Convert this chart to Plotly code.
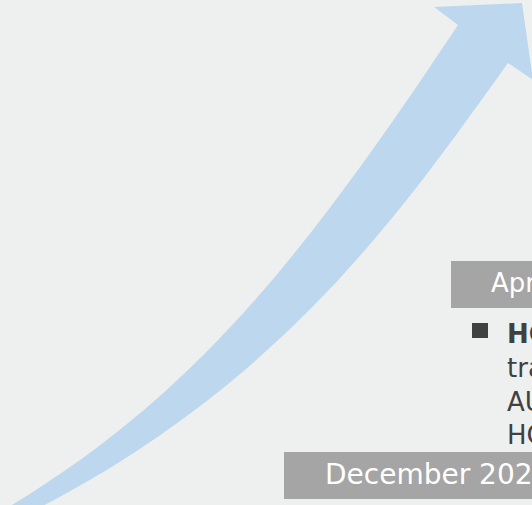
import plotly.graph_objects as go

# ---- content ----
DATE_LABELS = ["Apr", "December 202"]
BULLET_HEAD = "HC"
BULLET_BODY = ["tra", "AU", "HC"]

# arrow outline (cubic Bezier edges + arrow head), canvas pixel units
UPPER_EDGE = [(-5, 515), (195, 399), (308, 250), (458, 25)]
ARROW_HEAD = [(434, 7), (522, 3), (533, 80)]
LOWER_EDGE = [(508, 63), (408, 202), (285, 385), (25, 515)]

W, H = 532, 505
BG = "#EEF0EF"
ARROW = "#BDD7EE"
BOX = "#A5A5A5"
DARK = "#404040"
FONT = "DejaVu Sans"


def pt(p):
    return f"{p[0]},{p[1]}"


path = (
    f"M {pt(UPPER_EDGE[0])} C {pt(UPPER_EDGE[1])} {pt(UPPER_EDGE[2])} {pt(UPPER_EDGE[3])} "
    + " ".join(f"L {pt(p)}" for p in ARROW_HEAD)
    + f" L {pt(LOWER_EDGE[0])} C {pt(LOWER_EDGE[1])} {pt(LOWER_EDGE[2])} {pt(LOWER_EDGE[3])} Z"
)

fig = go.Figure()
fig.add_trace(go.Scatter(x=[0, W], y=[0, H], mode="markers",
                         marker=dict(opacity=0), hoverinfo="skip", showlegend=False))

shapes = [
    dict(type="path", path=path, xref="x", yref="y", fillcolor=ARROW,
         line=dict(width=0), layer="below"),
    # date boxes
    dict(type="rect", xref="x", yref="y", x0=451, x1=560, y0=261, y1=308,
         fillcolor=BOX, line=dict(width=0)),
    dict(type="rect", xref="x", yref="y", x0=284, x1=560, y0=452, y1=499,
         fillcolor=BOX, line=dict(width=0)),
    # bullet square
    dict(type="rect", xref="x", yref="y", x0=472, x1=488, y0=323, y1=338,
         fillcolor=DARK, line=dict(width=0)),
]

annotations = [
    dict(x=489, y=283, xref="x", yref="y", text=DATE_LABELS[0], showarrow=False,
         xanchor="left", yanchor="middle", font=dict(family=FONT, size=26, color="white")),
    dict(x=323, y=474, xref="x", yref="y", text=DATE_LABELS[1], showarrow=False,
         xanchor="left", yanchor="middle", font=dict(family=FONT, size=28, color="white")),
    dict(x=505, y=317, xref="x", yref="y",
         text="<b>" + BULLET_HEAD + "</b><br>" + "<br>".join(BULLET_BODY),
         showarrow=False, align="left", xanchor="left", yanchor="top",
         font=dict(family=FONT, size=26, color=DARK)),
]

fig.update_layout(
    width=W, height=H,
    margin=dict(l=0, r=0, t=0, b=0, pad=0),
    paper_bgcolor=BG, plot_bgcolor=BG,
    xaxis=dict(range=[0, W], visible=False, fixedrange=True),
    yaxis=dict(range=[H, 0], visible=False, fixedrange=True),
    shapes=shapes, annotations=annotations,
    showlegend=False,
)

fig.write_html("out.html", config={"displayModeBar": False},
               post_script="document.body.style.margin='0';document.body.style.overflow='hidden';")
